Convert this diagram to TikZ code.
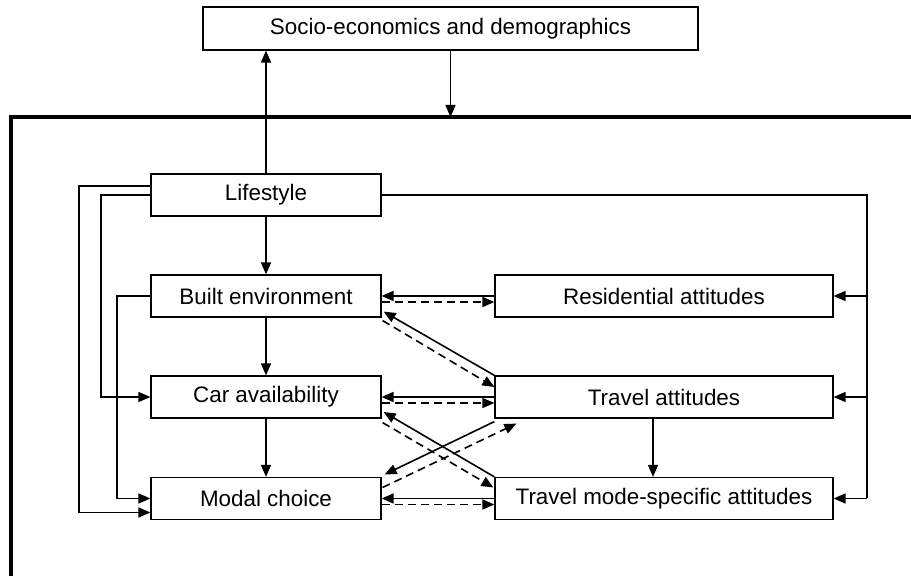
\documentclass[tikz,border=0pt]{standalone}
\usepackage{fontspec}
\setmainfont{Liberation Sans}
\usepackage{tikz}
\usetikzlibrary{arrows.meta, positioning}

\tikzset{
  box/.style={draw, line width=0.6pt, inner sep=0pt, font=\fontsize{11.2}{13}\selectfont},
  leftbox/.style={box, minimum width=115pt, minimum height=21pt},
  rightbox/.style={box, minimum width=169pt, minimum height=21pt},
  arr/.style={line width=0.8pt, -{Triangle[length=6pt,width=5pt]}},
  darr/.style={arr, dash pattern=on 4pt off 2.5pt},
}

\begin{document}
\begin{tikzpicture}[x=0.5pt, y=-0.5pt]
  \useasboundingbox (0,0) rectangle (911,576);

  % --- outer frame (runs off the page) ---
  \draw[line width=1.7pt] (11,590) -- (11,117) -- (925,117);
  \coordinate (ftop) at (450.5,117);

  % --- boxes ---
  \node[box, minimum width=247.5pt, minimum height=21.5pt] (socio) at (450.5,28.5) {Socio-economics and demographics};
  \node[leftbox] (life)  at (266,195) {Lifestyle};
  \node[leftbox] (built) at (266,296) {Built environment};
  \node[leftbox] (car)   at (266,397) {Car availability};
  \node[leftbox] (modal) at (266,498.5) {Modal choice};
  \node[rightbox] (res)  at (664,296) {Residential attitudes};
  \node[rightbox] (trav) at (664,397) {Travel attitudes};
  \node[rightbox] (mode) at (664,498.5) {Travel mode-specific attitudes};

  % --- top ---
  \draw[arr] (life.north) -- (life.north |- socio.south);
  \draw[arr] (socio.south) -- (ftop);

  % --- left column ---
  \draw[arr] (life.south) -- (built.north);
  \draw[arr] (built.south) -- (car.north);
  \draw[arr] (car.south) -- (modal.north);
  \draw[arr] ([shift={(-11,0)}]trav.south) -- ([shift={(-11,0)}]mode.north);

  % left bus lines
  \coordinate (lbusA) at (79,0);
  \coordinate (lbusB) at (101,0);
  \coordinate (lbusC) at (117,0);
  \coordinate (lifeA) at ([shift={(0,-9)}]life.west);
  \coordinate (modalA) at ([shift={(0,14)}]modal.west);
  \draw[arr] (lifeA) -- (lifeA -| lbusA) -- (modalA -| lbusA) -- (modalA);
  \draw[arr] (life.west) -- (life.west -| lbusB) -- (car.west -| lbusB) -- (car.west);
  \draw[arr] (built.west) -- (built.west -| lbusC) -- (modal.west -| lbusC) -- (modal.west);

  % right bus line
  \coordinate (rbus) at (867,0);
  \draw[line width=0.8pt] (life.east) -- (life.east -| rbus) -- (mode.east -| rbus);
  \foreach \n in {res, trav, mode}{
    \draw[arr] (\n.east -| rbus) -- (\n.east);
  }

  % --- links between left and right boxes ---
  \draw[arr]  (res.west) -- (built.east);
  \draw[darr] ([shift={(0,6)}]built.east) -- ([shift={(0,6)}]res.west);
  \draw[arr]  (trav.north west) -- ([shift={(2,-6)}]built.south east);
  \draw[darr] ([shift={(1,3)}]built.south east) -- ([shift={(0,-10)}]trav.west);

  \draw[arr]  (trav.west) -- (car.east);
  \draw[darr] ([shift={(0,6)}]car.east) -- ([shift={(0,6)}]trav.west);
  \draw[arr]  (mode.north west) -- ([shift={(2,15)}]car.east);
  \draw[darr] ([shift={(1,4)}]car.south east) -- ([shift={(-1,-11)}]mode.west);

  \draw[arr]  ([shift={(0,3)}]trav.south west) -- ([shift={(3,-24)}]modal.east);
  \draw[darr] ([shift={(1,-11)}]modal.east) -- ([shift={(22,5)}]trav.south west);
  \draw[arr]  (mode.west) -- (modal.east);
  \draw[darr] ([shift={(0,6)}]modal.east) -- ([shift={(0,6)}]mode.west);
\end{tikzpicture}
\end{document}
